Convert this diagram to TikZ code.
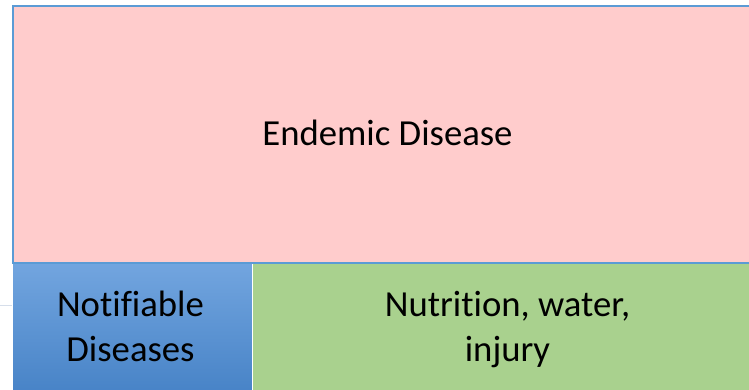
\documentclass[tikz,border=0pt]{standalone}
\usepackage{fontspec}
\setmainfont[Ligatures=NoCommon]{Carlito}
\definecolor{pinkfill}{HTML}{FFCCCC}
\definecolor{edgeblue}{HTML}{5B9BD5}
\definecolor{greenfill}{HTML}{A9D18E}
\definecolor{bluetop}{HTML}{72A5DF}
\definecolor{bluebot}{HTML}{4682C6}
\definecolor{faintline}{HTML}{D6DEEA}
\tikzset{
  lbl/.style={font=\fontsize{36.7}{45}\selectfont, text=black, align=center, inner sep=0pt},
  boxshape/.style={rectangle, inner sep=0pt, anchor=north west},
}
\begin{document}
\begin{tikzpicture}[x=1pt,y=-1pt]
\useasboundingbox (0,0) rectangle (749,389);
\fill[white] (0,0) rectangle (749,389);
\clip (0,0) rectangle (749,389);
% faint line on the left
\coordinate (fl1) at (0,305.7);
\coordinate (fl2) at (12,305.7);
\draw[faintline, line width=0.8pt] (fl1) -- (fl2);
% pink box
\node[boxshape, fill=pinkfill, draw=edgeblue, line width=1.5pt,
      minimum width=751pt, minimum height=257pt] (endemic) at (12,5) {};
% green box
\node[boxshape, fill=greenfill, minimum width=512pt, minimum height=140pt] (nutri) at (253,263) {};
% blue box with gradient
\node[boxshape, top color=bluetop, bottom color=bluebot, draw=white, line width=0.8pt,
      minimum width=240pt, minimum height=134pt] (notif) at (12,263) {};
\draw[edgeblue, line width=1.5pt] (endemic.south west) -- (endemic.south east);
% labels
\node[lbl, anchor=base] (t1) at (387.5,145) {Endemic Disease};
\node[lbl, anchor=base] (t2a) at (130.5,316.7) {Notifiable};
\node[lbl, anchor=base] (t2b) at (130.5,361.7) {Diseases};
\node[lbl, anchor=base] (t3a) at (507.5,316.7) {Nutrition, water,};
\node[lbl, anchor=base] (t3b) at (507.5,361.7) {injury};
\end{tikzpicture}
\end{document}
